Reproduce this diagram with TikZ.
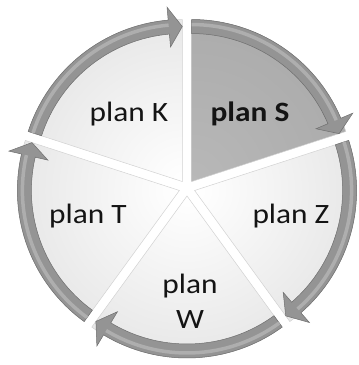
\documentclass[tikz,border=0pt]{standalone}
\usepackage{fontspec}
\setmainfont{Carlito}[FakeStretch=1.12]
\definecolor{rimgray}{RGB}{208,208,208}
\definecolor{darkrim}{RGB}{160,160,160}
\definecolor{darkcore}{RGB}{184,184,184}
\definecolor{bandgray}{RGB}{148,148,148}
\definecolor{bandlight}{RGB}{174,174,174}
\definecolor{inkgray}{RGB}{20,20,20}

\begin{document}
\begin{tikzpicture}[x=1pt,y=1pt,
  planlabel/.style={font=\fontsize{28}{35}\selectfont, inner sep=0pt, text=inkgray},
  band/.style={fill=bandgray, draw=bandgray!75!black, line width=0.5pt},
  slicerim/.style={draw=gray!35, line width=0.5pt}]
\useasboundingbox (0,0) rectangle (359,365);
\coordinate (hub) at (187,177);

% Draw the five slices, each with its arrow along the rim
\foreach \i in {0,...,4} {
  \pgfmathsetmacro\aone{90-72*\i}
  \pgfmathsetmacro\atwo{18-72*\i}
  \pgfmathsetmacro\amid{54-72*\i}
  \pgfmathsetmacro\aback{\atwo+5}
  \ifnum\i=0 \def\slicein{darkcore}\def\sliceout{darkrim}\else\def\slicein{white}\def\sliceout{rimgray}\fi
  \begin{scope}[shift={(hub)}, shift={(\amid:8)}]
    \begin{scope}
      \clip (0,0) -- (\aone:162) arc[start angle=\aone, end angle=\atwo, radius=162] -- cycle;
      \shade[inner color=\slicein, outer color=\sliceout] (0,0) circle (324);
    \end{scope}
    \draw[slicerim] (0,0) -- (\aone:162) arc[start angle=\aone, end angle=\atwo, radius=162] -- cycle;
    % the arrow band
    \draw[band] (\aone:148) -- (\aone:162) arc[start angle=\aone, end angle=\aback, radius=162]
      -- (\aback:175) -- (\atwo:155) -- (\aback:135) -- (\aback:148)
      arc[start angle=\aback, end angle=\aone, radius=148] -- cycle;
    \draw[bandlight, line width=3.5pt] (\aone:157) arc[start angle=\aone, end angle=\aback, radius=157];
  \end{scope}
}

% Labels
\node[planlabel, anchor=base] (planK) at (129,243) {plan K};
\node[planlabel, anchor=base] (planS) at (250,243) {\bfseries plan S};
\node[planlabel, anchor=base] (planT) at (88,141) {plan T};
\node[planlabel, anchor=base] (planZ) at (291,141) {plan Z};
\node[planlabel, align=center] (planW) at (190,64) {plan\\W};

\end{tikzpicture}
\end{document}
